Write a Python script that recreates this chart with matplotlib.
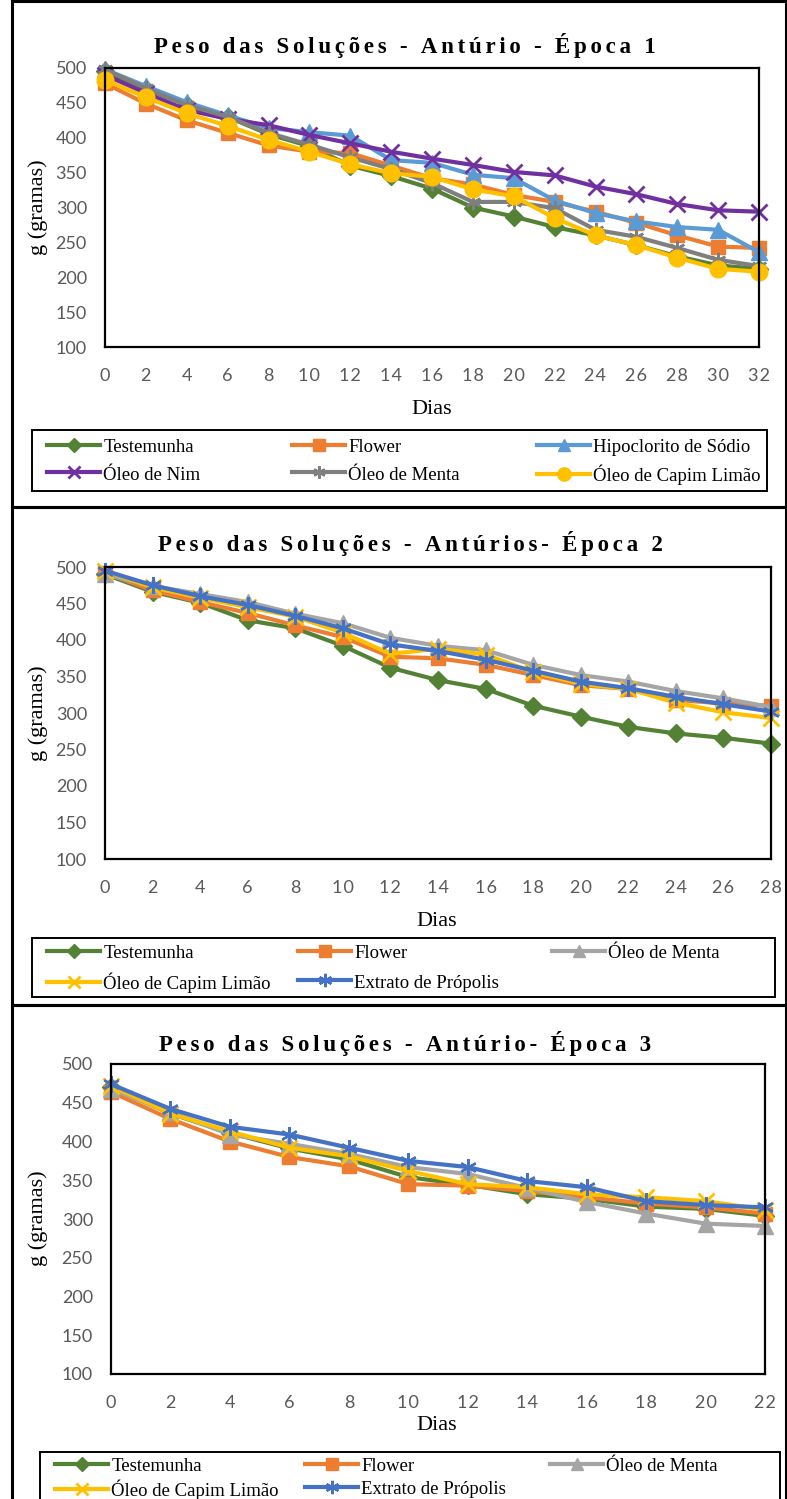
import matplotlib
matplotlib.use("Agg")
from matplotlib import pyplot as plt
from matplotlib.patches import Rectangle

# dados - epoca 1
dias1 = [0, 2, 4, 6, 8, 10, 12, 14, 16, 18, 20, 22, 24, 26, 28, 30, 32]
test1 = [495, 470, 447, 430, 405, 388, 360, 345, 327, 300, 287, 272, 260, 246, 230, 217, 212]
flower1 = [478, 449, 425, 407, 389, 380, 378, 360, 342, 333, 318, 308, 294, 278, 260, 244, 242]
hipo1 = [498, 474, 451, 432, 414, 408, 403, 368, 364, 347, 342, 310, 292, 280, 272, 268, 236]
nim1 = [490, 464, 440, 427, 418, 404, 392, 380, 370, 361, 351, 346, 330, 319, 305, 296, 294]
menta1 = [498, 471, 447, 430, 407, 390, 372, 355, 335, 308, 308, 299, 268, 258, 242, 225, 216]
capim1 = [483, 458, 435, 417, 397, 380, 362, 349, 344, 326, 316, 285, 260, 246, 228, 212, 208]

# dados - epoca 2
dias2 = [0, 2, 4, 6, 8, 10, 12, 14, 16, 18, 20, 22, 24, 26, 28]
test2 = [490, 466, 451, 427, 416, 392, 362, 345, 333, 310, 295, 281, 272, 266, 258]
flower2 = [492, 468, 452, 437, 420, 404, 377, 375, 366, 352, 338, 333, 318, 313, 310]
menta2 = [490, 474, 463, 452, 436, 423, 403, 392, 386, 366, 352, 343, 330, 320, 308]
capim2 = [495, 472, 458, 445, 432, 410, 381, 388, 380, 356, 340, 333, 314, 301, 293]
propolis2 = [495, 475, 460, 448, 433, 416, 394, 385, 373, 358, 343, 334, 322, 312, 302]

# dados - epoca 3
dias3 = [0, 2, 4, 6, 8, 10, 12, 14, 16, 18, 20, 22]
test3 = [470, 436, 411, 391, 377, 354, 344, 332, 326, 316, 313, 304]
flower3 = [464, 429, 400, 380, 368, 345, 343, 336, 328, 320, 315, 307]
menta3 = [468, 438, 409, 397, 384, 367, 358, 340, 322, 307, 294, 291]
capim3 = [472, 436, 413, 392, 381, 362, 345, 341, 332, 328, 323, 312]
propolis3 = [474, 442, 419, 409, 392, 375, 367, 349, 341, 323, 318, 315]

yticks = [100, 150, 200, 250, 300, 350, 400, 450, 500]

W, H = 787, 1499
fig = plt.figure(figsize=(W / 100, H / 100), dpi=100)

def fx(px):
    return px / W

def fy(py):
    return 1 - py / H

SERIF = ['Liberation Serif', 'DejaVu Serif']
TICKF = ['Lato', 'DejaVu Sans']
LEGSIZE = 13.5
LEGPX = LEGSIZE * 100 / 72

def spaced(s, n=1):
    return ('\u200a' * n).join(s)

def make_axes(l, r, t, b, dias):
    ax = fig.add_axes([fx(l), fy(b), fx(r) - fx(l), fy(t) - fy(b)])
    ax.set_xlim(0, dias[-1])
    ax.set_ylim(100, 500)
    ax.set_yticks(yticks)
    ax.set_xticks(dias)
    ax.set_xticklabels([spaced(str(d)) for d in dias], family=TICKF)
    ax.set_yticklabels([str(v) for v in yticks], family=TICKF)
    ax.tick_params(length=0, labelsize=13, labelcolor='#595959')
    ax.tick_params(axis='y', pad=13)
    ax.tick_params(axis='x', pad=15)
    for s in ax.spines.values():
        s.set_linewidth(1.6)
        s.set_color('black')
    return ax

def serie(ax, x, y, color, marker, label, ms=10, mew=1.0):
    ax.plot(x, y, color=color, lw=3, marker=marker, ms=ms, mew=mew,
            mec=color, mfc=color, label=label, clip_on=False)

def legenda(ax, cols_x, row1_y, pitch, box):
    # itens em ordem de linha, 3 colunas
    h, l = ax.get_legend_handles_labels()
    ls = pitch / LEGPX - 1.0
    for c, x in enumerate(cols_x):
        idx = [i for i in range(len(h)) if i % 3 == c]
        fig.legend([h[i] for i in idx], [l[i] for i in idx], loc='upper left',
                   bbox_to_anchor=(fx(x), fy(row1_y - LEGPX / 2)), frameon=False,
                   borderpad=0, borderaxespad=0, handlelength=2.85,
                   handleheight=1.0, handletextpad=0.15, labelspacing=ls,
                   markerscale=0.8, prop={'family': SERIF, 'size': LEGSIZE})
    x0, y0, x1, y1 = box
    fig.patches.append(Rectangle((fx(x0), fy(y1)), fx(x1) - fx(x0), fy(y0) - fy(y1),
                                 transform=fig.transFigure, fill=False,
                                 edgecolor='black', lw=1.4))

# molduras dos paineis
for (t, b) in [(1, 507), (507, 1005), (1005, 1510)]:
    fig.patches.append(Rectangle((fx(12), fy(b)), fx(786) - fx(12), fy(t) - fy(b),
                                 transform=fig.transFigure, fill=False,
                                 edgecolor='black', lw=2.2))

AST = (6, 2, 0)

# ---- painel 1
ax1 = make_axes(105, 759, 68, 347, dias1)
serie(ax1, dias1, test1, '#548235', 'D', 'Testemunha', ms=9)
serie(ax1, dias1, flower1, '#ED7D31', 's', 'Flower', ms=10)
serie(ax1, dias1, hipo1, '#5B9BD5', '^', 'Hipoclorito de Sódio', ms=11)
serie(ax1, dias1, nim1, '#7030A0', 'x', 'Óleo de Nim', ms=11, mew=2)
serie(ax1, dias1, menta1, '#7F7F7F', AST, 'Óleo de Menta', ms=11, mew=1.7)
serie(ax1, dias1, capim1, '#FFC000', 'o', 'Óleo de Capim Limão', ms=12)
legenda(ax1, [47, 292, 537], 447, 27, (32, 430, 767, 491))
fig.text(fx(405), fy(45), spaced('Peso das Soluções - Antúrio - Época 1', 2),
         ha='center', va='center', family=SERIF, weight='bold', size=16.5)
fig.text(fx(38), fy(207), 'g (gramas)', rotation=90, ha='center', va='center',
         family=SERIF, size=16)
fig.text(fx(432), fy(410), 'Dias', ha='center', va='center', family=SERIF, size=16)

# ---- painel 2
ax2 = make_axes(105, 771, 567, 859, dias2)
serie(ax2, dias2, test2, '#548235', 'D', 'Testemunha', ms=9)
serie(ax2, dias2, flower2, '#ED7D31', 's', 'Flower', ms=10)
serie(ax2, dias2, menta2, '#A5A5A5', '^', 'Óleo de Menta', ms=11)
serie(ax2, dias2, capim2, '#FFC000', 'x', 'Óleo de Capim Limão', ms=11, mew=2)
serie(ax2, dias2, propolis2, '#4472C4', AST, 'Extrato de Própolis', ms=12, mew=1.7)
legenda(ax2, [47, 298, 552], 953, 29, (32, 938, 775, 997))
fig.text(fx(410), fy(544), spaced('Peso das Soluções - Antúrios- Época 2', 2),
         ha='center', va='center', family=SERIF, weight='bold', size=16.5)
fig.text(fx(38), fy(713), 'g (gramas)', rotation=90, ha='center', va='center',
         family=SERIF, size=16)
fig.text(fx(437), fy(921), 'Dias', ha='center', va='center', family=SERIF, size=16)

# ---- painel 3
ax3 = make_axes(111, 765, 1064, 1374, dias3)
serie(ax3, dias3, test3, '#548235', 'D', 'Testemunha', ms=9)
serie(ax3, dias3, flower3, '#ED7D31', 's', 'Flower', ms=10)
serie(ax3, dias3, menta3, '#A5A5A5', '^', 'Óleo de Menta', ms=11)
serie(ax3, dias3, capim3, '#FFC000', 'x', 'Óleo de Capim Limão', ms=11, mew=2)
serie(ax3, dias3, propolis3, '#4472C4', AST, 'Extrato de Própolis', ms=12, mew=1.7)
legenda(ax3, [55, 305, 550], 1466, 23, (40, 1452, 780, 1510))
fig.text(fx(405), fy(1043), spaced('Peso das Soluções - Antúrio- Época 3', 2),
         ha='center', va='center', family=SERIF, weight='bold', size=16.5)
fig.text(fx(38), fy(1218), 'g (gramas)', rotation=90, ha='center', va='center',
         family=SERIF, size=16)
fig.text(fx(437), fy(1425), 'Dias', ha='center', va='center', family=SERIF, size=16)

fig.savefig('out.png', dpi=100)
